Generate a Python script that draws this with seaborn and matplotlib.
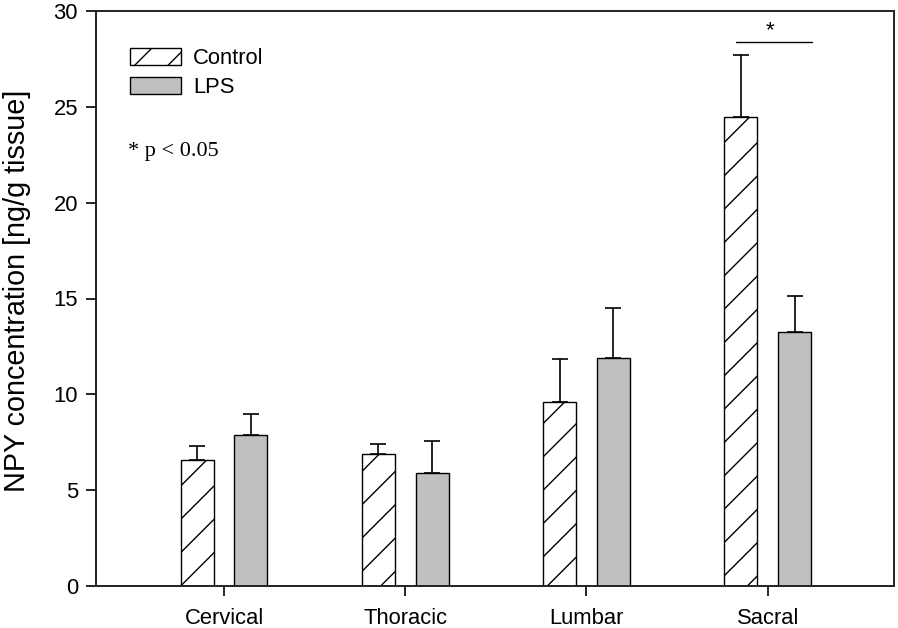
import numpy as np
import pandas as pd
import matplotlib
matplotlib.use("Agg")
import matplotlib.pyplot as plt
import seaborn as sns
from matplotlib.patches import Patch

# ---- data ----
regions = ["Cervical", "Thoracic", "Lumbar", "Sacral"]
groups = ["Control", "LPS"]
control_mean = [6.57, 6.90, 9.58, 24.45]
control_err = [0.75, 0.51, 2.25, 3.23]
lps_mean = [7.86, 5.91, 11.89, 13.25]
lps_err = [1.11, 1.64, 2.61, 1.86]
y_ticks = [0, 5, 10, 15, 20, 25, 30]

df = pd.DataFrame({
    "region": regions * 2,
    "group": [groups[0]] * 4 + [groups[1]] * 4,
    "value": control_mean + lps_mean,
})

sns.set_style("white")
plt.rcParams["font.family"] = ["Liberation Sans", "DejaVu Sans"]
plt.rcParams["text.color"] = "black"
plt.rcParams["axes.labelcolor"] = "black"
plt.rcParams["xtick.color"] = "black"
plt.rcParams["ytick.color"] = "black"

fig = plt.figure(figsize=(8.98, 6.28), dpi=100)
ax = fig.add_axes([96 / 898, 42 / 628, 798 / 898, 575 / 628])

colors = ["white", "#c0c0c0"]
sns.barplot(data=df, x="region", y="value", hue="group", order=regions,
            hue_order=groups, palette=colors, width=0.592, gap=0.385,
            errorbar=None, edgecolor="black", linewidth=1.0, legend=False,
            saturation=1, ax=ax)

plt.rcParams["hatch.linewidth"] = 1.0
errs = [control_err, lps_err]
for ci, cont in enumerate(ax.containers[:2]):
    xs, ys = [], []
    for p in cont.patches:
        if ci == 0:
            p.set_hatch("/")
        p.set_edgecolor("black")
        xs.append(p.get_x() + p.get_width() / 2)
        ys.append(p.get_height())
    e = np.array(errs[ci])
    ax.errorbar(xs, ys, yerr=[np.zeros_like(e), e], fmt="none", ecolor="black",
                elinewidth=1.2, capsize=6, capthick=1.2, zorder=0.5)

ax.set_xlim(-0.7064, 3.697)
ax.set_ylim(0, 30)
ax.set_yticks(y_ticks)
ax.set_yticklabels([str(t) for t in y_ticks])
ax.set_xlabel("")
ax.set_ylabel("NPY concentration [ng/g tissue]", fontsize=20.7, color="black")
ax.yaxis.set_label_coords(-0.081, 0.513)
ax.tick_params(axis="both", labelsize=15.8, direction="out", length=7,
               width=1.2, color="black", labelcolor="black", left=True,
               bottom=True, top=False, right=False)
ax.tick_params(axis="x", pad=9)
ax.tick_params(axis="y", pad=6)
for s in ax.spines.values():
    s.set_visible(True)
    s.set_color("#222222")
    s.set_linewidth(1.4)

# significance marker
ax.plot([3 - 0.175, 3 + 0.245], [28.4, 28.4], color="black", lw=1.0)
ax.text(3.013, 28.95, "*", ha="center", va="center", fontsize=16)

# p-value note
ax.text(0.040, 0.755, "* p < 0.05", transform=ax.transAxes, ha="left",
        va="center", fontsize=16, family=["Liberation Serif", "DejaVu Serif"])

handles = [Patch(facecolor="white", edgecolor="black", hatch="/", lw=1.0),
           Patch(facecolor="#c0c0c0", edgecolor="black", lw=1.0)]
ax.legend(handles, groups, loc="upper left", bbox_to_anchor=(0.0426, 0.935),
          frameon=False, fontsize=15.8, handlelength=2.33, handleheight=0.79,
          handletextpad=0.55, labelspacing=0.35, borderpad=0, borderaxespad=0)

fig.savefig("out.png", dpi=100)
